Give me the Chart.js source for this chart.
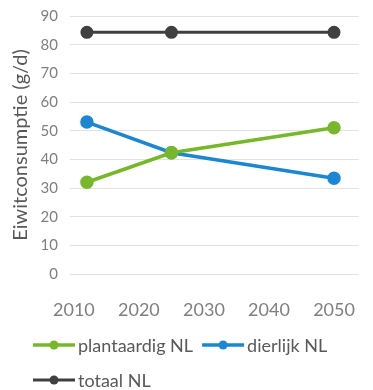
<!DOCTYPE html>
<html>
<head>
<meta charset="utf-8">
<script src="https://cdn.jsdelivr.net/npm/chart.js@4/dist/chart.umd.min.js"></script>
<style>
  html, body { margin: 0; padding: 0; background: #fff; }
  #wrap { width: 373px; height: 390px; position: relative; }
</style>
</head>
<body>
<div id="wrap"><canvas id="chart"></canvas></div>
<script>
// protein consumption per day, NL
const years = [2012, 2025, 2050];
const plantaardig = [32, 42.3, 51];
const dierlijk = [53, 42.3, 33.4];
const totaal = [84.3, 84.3, 84.3];
const xTicks = [2010, 2020, 2030, 2040, 2050];

const FONT = 'Lato, "Open Sans", sans-serif';

const toPoints = vals => vals.map((v, i) => ({ x: years[i], y: v }));

// legend drawn as line + marker, wrapping onto a second row
const lineLegend = {
  id: 'lineLegend',
  afterDraw(chart) {
    const ctx = chart.ctx;
    ctx.save();
    ctx.font = '18px ' + FONT;
    ctx.textBaseline = 'middle';
    let x = 33, y = 345;
    chart.data.datasets.forEach(ds => {
      const w = 45 + ctx.measureText(ds.label).width;
      if (x + w > chart.width - 5) { x = 33; y += 35; }
      ctx.strokeStyle = ds.borderColor;
      ctx.lineWidth = ds.borderWidth;
      ctx.beginPath();
      ctx.moveTo(x, y);
      ctx.lineTo(x + 42, y);
      ctx.stroke();
      ctx.fillStyle = ds.borderColor;
      ctx.beginPath();
      ctx.arc(x + 21, y, 4.5, 0, Math.PI * 2);
      ctx.fill();
      ctx.fillStyle = '#595959';
      ctx.fillText(ds.label, x + 45, y + 1);
      x += w + 9;
    });
    ctx.restore();
  }
};

const makeSet = (label, vals, color, width) => ({
  label: label,
  data: toPoints(vals),
  borderColor: color,
  backgroundColor: color,
  borderWidth: width,
  pointRadius: 5,
  pointHoverRadius: 5,
  tension: 0,
});

new Chart(document.getElementById('chart'), {
  type: 'line',
  data: {
    datasets: [
      makeSet('plantaardig NL', plantaardig, '#76b82a', 3.5),
      makeSet('dierlijk NL', dierlijk, '#1b87d3', 3.5),
      makeSet('totaal NL', totaal, '#404040', 3),
    ],
  },
  options: {
    responsive: true,
    maintainAspectRatio: false,
    animation: false,
    layout: { padding: { top: 16, right: 13, bottom: 71, left: 0 } },
    plugins: {
      legend: { display: false },
      tooltip: { enabled: false },
    },
    scales: {
      x: {
        type: 'linear',
        min: 2009.4,
        max: 2053.8,
        afterBuildTicks: axis => { axis.ticks = xTicks.map(v => ({ value: v })); },
        afterFit: axis => { axis.height = 45; },
        grid: { display: false },
        border: { display: false },
        ticks: {
          color: '#7f7f7f',
          font: { family: FONT, size: 18 },
          padding: 17,
          maxRotation: 0,
          callback: v => String(v),
        },
      },
      y: {
        min: 0,
        max: 90,
        afterFit: axis => {
          axis.width = 70;
          axis.paddingTop = 0;
          axis.paddingBottom = 0;
        },
        grid: { color: '#e2e2e2', lineWidth: 1, drawTicks: false },
        border: { display: false },
        ticks: {
          stepSize: 10,
          color: '#7f7f7f',
          font: { family: FONT, size: 15 },
          padding: 12,
        },
        title: {
          display: true,
          text: 'Eiwitconsumptie (g/d)',
          color: '#595959',
          font: { family: FONT, size: 20 },
          padding: { top: 9, bottom: 0 },
        },
      },
    },
  },
  plugins: [lineLegend],
});
</script>
</body>
</html>
